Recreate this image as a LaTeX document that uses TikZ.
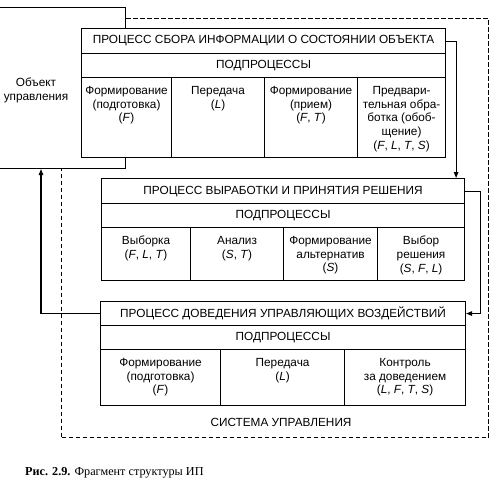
\documentclass[tikz,border=0pt]{standalone}
\usepackage{fontspec}
\setmainfont{Liberation Sans}
\newfontfamily\capfont{Liberation Serif}
\usetikzlibrary{arrows.meta}
\tikzset{
  box/.style={draw, line width=1.1pt, fill=white, inner sep=0pt, anchor=north west},
  txt/.style={font=\fontsize{11.8}{13.8}\selectfont, align=center, inner sep=0pt},
  celltxt/.style={txt, anchor=north},
  conn/.style={line width=1.1pt, -{Triangle[length=6pt,width=4.5pt]}},
  bound/.style={line width=1.1pt, dash pattern=on 4.5pt off 2.5pt}
}
\newcommand{\mycell}[6]{%
  \node[box, minimum width=#4pt, minimum height=#5pt] (#1) at (#2,#3) {};
  \node[celltxt] (#1-t) at ([yshift=-9pt]#1.north) {#6};
}
\begin{document}
\begin{tikzpicture}[x=1pt,y=-1pt]
\useasboundingbox (0,0) rectangle (502,491);
% system boundary
\node[bound, draw, anchor=north west, minimum width=427pt, minimum height=419pt, inner sep=0pt] (sys) at (61,18) {};
% control object
\node[box, minimum width=131pt, minimum height=161pt] (obj) at (-6,7) {};
\node[txt] (obj-t) at (36,90) {Объект\\управления};
% box 1
\node[box, minimum width=364pt, minimum height=25pt] (b1t) at (81,28) {};
\node[txt] at (b1t.center) {ПРОЦЕСС СБОРА ИНФОРМАЦИИ О СОСТОЯНИИ ОБЪЕКТА};
\node[box, minimum width=364pt, minimum height=24pt] (b1s) at (81,53) {};
\node[txt] at (b1s.center) {ПОДПРОЦЕССЫ};
\mycell{b1a}{81}{77}{90}{80}{Формирование\\(подготовка)\\(\textit{F})}
\mycell{b1b}{171}{77}{93}{80}{Передача\\(\textit{L})}
\mycell{b1c}{264}{77}{93}{80}{Формирование\\(прием)\\(\textit{F}, \textit{T})}
\mycell{b1d}{357}{77}{88}{80}{Предвари-\\тельная обра-\\ботка (обоб-\\щение)\\(\textit{F}, \textit{L}, \textit{T}, \textit{S})}
% box 2
\node[box, minimum width=363pt, minimum height=25pt] (b2t) at (101,178) {};
\node[txt] at (b2t.center) {ПРОЦЕСС ВЫРАБОТКИ И ПРИНЯТИЯ РЕШЕНИЯ};
\node[box, minimum width=363pt, minimum height=24pt] (b2s) at (101,203) {};
\node[txt] at (b2s.center) {ПОДПРОЦЕССЫ};
\mycell{b2a}{101}{227}{89}{53}{Выборка\\(\textit{F}, \textit{L}, \textit{T})}
\mycell{b2b}{190}{227}{93}{53}{Анализ\\(\textit{S}, \textit{T})}
\mycell{b2c}{283}{227}{94}{53}{Формирование\\альтернатив\\(\textit{S})}
\mycell{b2d}{377}{227}{87}{53}{Выбор\\решения\\(\textit{S}, \textit{F}, \textit{L})}
% box 3
\node[box, minimum width=365pt, minimum height=24pt] (b3t) at (100,301) {};
\node[txt] at (b3t.center) {ПРОЦЕСС ДОВЕДЕНИЯ УПРАВЛЯЮЩИХ ВОЗДЕЙСТВИЙ};
\node[box, minimum width=365pt, minimum height=24pt] (b3s) at (100,325) {};
\node[txt] at (b3s.center) {ПОДПРОЦЕССЫ};
\mycell{b3a}{100}{349}{120}{56}{Формирование\\(подготовка)\\(\textit{F})}
\mycell{b3b}{220}{349}{124}{56}{Передача\\(\textit{L})}
\mycell{b3c}{344}{349}{121}{56}{Контроль\\за доведением\\(\textit{L}, \textit{F}, \textit{T}, \textit{S})}
\node[txt] (sysl) at (281,422) {СИСТЕМА УПРАВЛЕНИЯ};
% connectors
\draw[conn] (b1t.east) -| ([xshift=-9pt]b2t.north east);
\draw[conn] (b2t.east) -- ++(15,0) |- (b3t.east);
\draw[conn] (b3t.west) -| ([xshift=47pt]obj.south west);
% caption
\node[anchor=west, inner sep=0pt, font=\capfont\fontsize{12.2}{14}\selectfont] (cap) at (25,473) {\textbf{Рис. 2.9.} Фрагмент структуры ИП};
\end{tikzpicture}
\end{document}
